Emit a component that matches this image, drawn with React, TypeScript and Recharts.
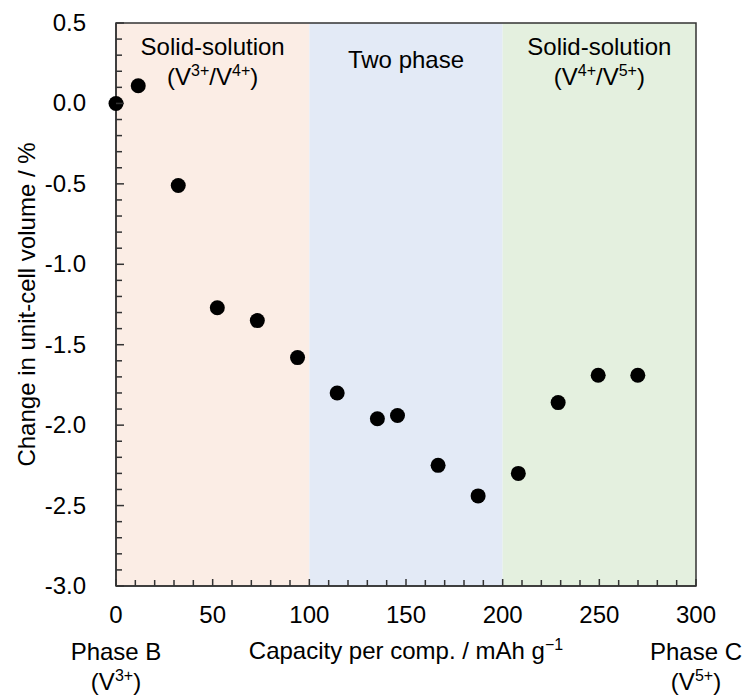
import React from 'react';
import { ScatterChart, Scatter, XAxis, YAxis, ReferenceArea } from 'recharts';

// measured points: capacity (mAh/g) vs change in unit-cell volume (%)
const capacity = [0, 11.5, 32.2, 52.4, 73.1, 93.9, 114.4, 135.2, 145.6, 166.6, 187.3, 208.1, 228.7, 249.4, 269.9];
const volumeChange = [0.0, 0.11, -0.51, -1.27, -1.35, -1.58, -1.8, -1.96, -1.94, -2.25, -2.44, -2.3, -1.86, -1.69, -1.69];

const xMajorTicks = [0, 50, 100, 150, 200, 250, 300];
const yMajorTicks = [0.5, 0.0, -0.5, -1.0, -1.5, -2.0, -2.5, -3.0];

const regionBounds = [[0, 100], [100, 200], [200, 300]];
const regionFills = ['#fbede5', '#e3eaf6', '#e4f0df'];
const regionTitles = ['Solid-solution', 'Two phase', 'Solid-solution'];
const regionIons = [[['V', '3+'], ['V', '4+']], [], [['V', '4+'], ['V', '5+']]];

const FONT = '"Liberation Sans", Arial, Helvetica, sans-serif';
const FS = 24;
const SUP = 16;
const RAISE = 9;
const INK = '#000';
const FRAME = '#333';

const points = capacity.map((c, i) => ({ capacity: c, change: volumeChange[i] }));

// minor ticks every 10 mAh/g and every 0.1 %
const xTicks: number[] = [];
for (let v = 0; v <= 300; v += 10) xTicks.push(v);
const yTicks: number[] = [];
for (let k = -30; k <= 5; k++) yTicks.push(k / 10);

const isMajor = (v: number, majors: number[]) => majors.some((m) => Math.abs(m - v) < 1e-6);

// "(V3+/V4+)" style label with raised charges
const IonPair = ({ x, y, ions }: { x: number; y: number; ions: string[][] }) => {
  const parts: React.ReactNode[] = [<tspan key="open">(</tspan>];
  ions.forEach(([el, charge], i) => {
    parts.push(
      <tspan key={`e${i}`} dy={i > 0 ? RAISE : 0}>
        {i > 0 ? '/' + el : el}
      </tspan>
    );
    parts.push(
      <tspan key={`c${i}`} dy={-RAISE} fontSize={SUP}>
        {charge}
      </tspan>
    );
  });
  parts.push(
    <tspan key="close" dy={RAISE}>
      )
    </tspan>
  );
  return (
    <text x={x} y={y} textAnchor="middle" fontFamily={FONT} fontSize={FS} fill={INK}>
      {parts}
    </text>
  );
};

const YTick = (props: any) => {
  const { x, y, payload } = props;
  const major = isMajor(payload.value, yMajorTicks);
  return (
    <g>
      <line x1={x} x2={x + (major ? 8 : 6)} y1={y} y2={y} stroke={FRAME} strokeWidth={1.5} />
      {major && (
        <text x={x - 30} y={y + 8} textAnchor="end" fontFamily={FONT} fontSize={FS} fill={INK}>
          {payload.value.toFixed(1)}
        </text>
      )}
    </g>
  );
};

const XTick = (props: any) => {
  const { x, y, payload } = props;
  const v = payload.value;
  const major = isMajor(v, xMajorTicks);
  return (
    <g>
      <line x1={x} x2={x} y1={y} y2={y - (major ? 7 : 6)} stroke={FRAME} strokeWidth={1.5} />
      {major && (
        <text x={x} y={y + 37} textAnchor="middle" fontFamily={FONT} fontSize={FS} fill={INK}>
          {v}
        </text>
      )}
      {v === 0 && (
        <>
          <text x={x} y={y + 74} textAnchor="middle" fontFamily={FONT} fontSize={FS} fill={INK}>Phase B</text>
          <IonPair x={x} y={y + 104} ions={[['V', '3+']]} />
        </>
      )}
      {v === 300 && (
        <>
          <text x={x} y={y + 74} textAnchor="middle" fontFamily={FONT} fontSize={FS} fill={INK}>Phase C</text>
          <IonPair x={x} y={y + 104} ions={[['V', '5+']]} />
        </>
      )}
    </g>
  );
};

const regionLabel = (i: number) => (props: any) => {
  const { x, y, width } = props.viewBox;
  const cx = x + width / 2;
  if (regionIons[i].length === 0) {
    return (
      <text x={cx} y={y + 45} textAnchor="middle" fontFamily={FONT} fontSize={FS} fill={INK}>
        {regionTitles[i]}
      </text>
    );
  }
  return (
    <g>
      <text x={cx} y={y + 32} textAnchor="middle" fontFamily={FONT} fontSize={FS} fill={INK}>
        {regionTitles[i]}
      </text>
      <IonPair x={cx} y={y + 62} ions={regionIons[i]} />
    </g>
  );
};

const xTitle = (props: any) => {
  const { x, y, width } = props.viewBox;
  return (
    <text x={x + width / 2} y={y + 73} textAnchor="middle" fontFamily={FONT} fontSize={FS} fill={INK}>
      <tspan>Capacity per comp. / mAh g</tspan>
      <tspan dy={-RAISE} fontSize={SUP}>{'\u22121'}</tspan>
    </text>
  );
};

const yTitle = (props: any) => {
  const { x, y, height } = props.viewBox;
  const cx = x - 30;
  const cy = y + height / 2;
  return (
    <text
      x={cx}
      y={cy}
      transform={`rotate(-90, ${cx}, ${cy})`}
      textAnchor="middle"
      dominantBaseline="central"
      fontFamily={FONT}
      fontSize={FS}
      fill={INK}
    >
      Change in unit-cell volume / %
    </text>
  );
};

const Dot = (props: any) => <circle cx={props.cx} cy={props.cy} r={7.5} fill="#000" />;

export default function App() {
  return (
    <div style={{ position: 'absolute', left: 0, top: 0, background: '#fff' }}>
      <ScatterChart width={748} height={695} margin={{ top: 23, right: 52, bottom: 69, left: 56 }}>
        {regionBounds.map(([a, b], i) => (
          <ReferenceArea
            key={i}
            x1={a}
            x2={b}
            y1={-3}
            y2={0.5}
            fill={regionFills[i]}
            fillOpacity={1}
            stroke="none"
            label={regionLabel(i)}
            ifOverflow="visible"
          />
        ))}
        <ReferenceArea
          x1={0}
          x2={300}
          y1={-3}
          y2={0.5}
          fill="none"
          stroke={FRAME}
          strokeWidth={1.5}
          ifOverflow="visible"
        />
        <XAxis
          type="number"
          dataKey="capacity"
          domain={[0, 300]}
          ticks={xTicks}
          interval={0}
          tickSize={0}
          tickMargin={0}
          tick={<XTick />}
          axisLine={{ stroke: FRAME, strokeWidth: 1.5 }}
          height={40}
          label={xTitle}
        />
        <YAxis
          type="number"
          dataKey="change"
          domain={[-3, 0.5]}
          ticks={yTicks}
          interval={0}
          tickSize={0}
          tickMargin={0}
          tick={<YTick />}
          axisLine={{ stroke: FRAME, strokeWidth: 1.5 }}
          width={60}
          label={yTitle}
        />
        <Scatter data={points} shape={<Dot />} isAnimationActive={false} />
      </ScatterChart>
    </div>
  );
}
